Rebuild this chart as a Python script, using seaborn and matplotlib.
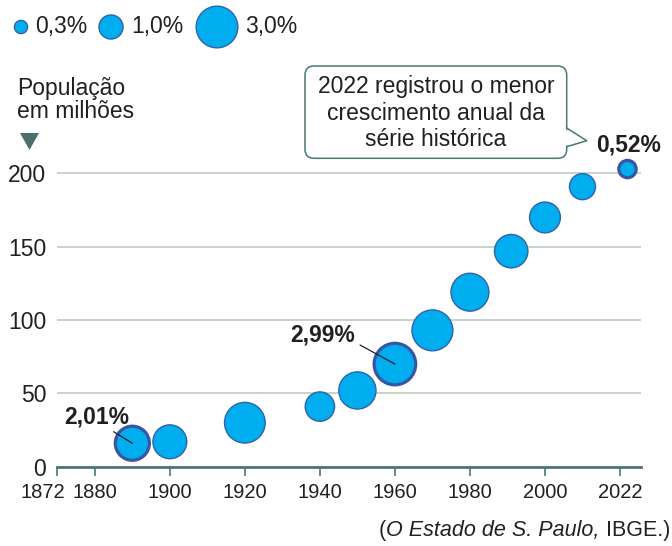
import matplotlib.pyplot as plt
import numpy as np
import pandas as pd
import seaborn as sns
from matplotlib.patches import FancyBboxPatch, Polygon
from matplotlib.transforms import ScaledTranslation

# dados (censos do IBGE)
anos = [1890, 1900, 1920, 1940, 1950, 1960, 1970, 1980, 1991, 2000, 2010, 2022]
populacao = [16, 17, 30, 41, 52, 70, 93, 119, 147, 170, 191, 203]
crescimento = [2.01, 1.98, 2.86, 1.49, 2.39, 2.99, 2.89, 2.48, 1.93, 1.64, 1.17, 0.52]
destaques = [1890, 1960, 2022]
rotulos = ['2,01%', '2,99%', '0,52%']

x_ticks = [1870, 1880, 1900, 1920, 1940, 1960, 1980, 2000, 2020]
x_labels = ['1872', '1880', '1900', '1920', '1940', '1960', '1980', '2000', '2022']
y_ticks = [0, 50, 100, 150, 200]

leg_taxas = [0.3, 1.0, 3.0]
leg_rotulos = ['0,3%', '1,0%', '3,0%']

df = pd.DataFrame({'ano': anos, 'pop': populacao, 'taxa': crescimento})

sns.set_theme(style='white')
plt.rcParams['font.family'] = ['Liberation Sans', 'DejaVu Sans']

AZUL = '#00adef'
BORDA = '#2f62ad'
BORDA2 = '#3a56a2'
VERDE = '#4b7774'
TXT = '#231f20'
SIZES = (90, 900)
NORM = (0.3, 3.0)

fig = plt.figure(figsize=(6.72, 5.46), dpi=100)
ax = fig.add_axes([57.3 / 672, 79.3 / 546, (641 - 57.3) / 672, (466.7 - 150) / 546])

sns.scatterplot(data=df, x='ano', y='pop', size='taxa', sizes=SIZES, size_norm=NORM,
                color=AZUL, edgecolor=BORDA, linewidth=1.0, legend=False, ax=ax, zorder=3)
sns.scatterplot(data=df[df['ano'].isin(destaques)], x='ano', y='pop', size='taxa',
                sizes=SIZES, size_norm=NORM, color=AZUL, edgecolor=BORDA2, linewidth=2.3,
                legend=False, ax=ax, zorder=4)

ax.set_xlim(1870, 2025.6)
ax.set_ylim(0, 216)
ax.set_xticks(x_ticks, x_labels)
ax.set_yticks(y_ticks)
ax.set_xlabel('')
ax.set_ylabel('')
ax.set_axisbelow(True)
ax.yaxis.grid(True, color='#b8c7b9', lw=1.1)
ax.xaxis.grid(False)
for s in ['top', 'right', 'left']:
    ax.spines[s].set_visible(False)
ax.spines['bottom'].set_color(VERDE)
ax.spines['bottom'].set_linewidth(2.0)
ax.tick_params(axis='x', bottom=True, length=6.5, width=1.2, color=VERDE, pad=5,
               labelsize=14.5, labelcolor=TXT)
ax.tick_params(axis='y', left=False, length=0, pad=8, labelsize=16.5, labelcolor=TXT)
for lbl in ax.get_xticklabels():
    if lbl.get_text() == '1872':
        lbl.set_transform(lbl.get_transform() + ScaledTranslation(-0.14, 0, fig.dpi_scale_trans))

# rotulos de destaque
pos_txt = [(1880.5, 29.8), (1940.7, 85.3), (2022.2, 214.9)]
pos_linha = [(1885.0, 23.9), (1950.7, 83.0), None]
for ano, rot, pt, pl in zip(destaques, rotulos, pos_txt, pos_linha):
    p = df.loc[df['ano'] == ano, 'pop'].iloc[0]
    ax.text(pt[0], pt[1], rot, ha='center', va='baseline', fontsize=16.5,
            fontweight='bold', color=TXT, zorder=6, clip_on=False)
    if pl is not None:
        ax.annotate('', xy=(ano, p), xytext=pl,
                    arrowprops=dict(arrowstyle='-', color=TXT, lw=0.9,
                                    shrinkA=0, shrinkB=0), zorder=6)

# camada em pixels para legenda, titulo e balao
ov = fig.add_axes([0, 0, 1, 1])
ov.set_xlim(0, 672)
ov.set_ylim(546, 0)
ov.axis('off')

leg_x = [21, 111, 217]
sns.scatterplot(x=leg_x, y=[27, 27, 27], size=leg_taxas, sizes=SIZES, size_norm=NORM,
                color=AZUL, edgecolor=BORDA, linewidth=1.0, legend=False, ax=ov)
ov.set_xlim(0, 672)
ov.set_ylim(546, 0)
for tx, r in zip([35, 131.7, 245], leg_rotulos):
    ov.text(tx, 33.3, r, ha='left', va='baseline', fontsize=16.5, color=TXT)

ov.text(17, 95, 'População', ha='left', va='baseline', fontsize=16.5, color=TXT)
ov.text(17, 118.3, 'em milhões', ha='left', va='baseline', fontsize=16.5, color=TXT)
ov.add_patch(Polygon([(20, 133), (39, 133), (29.5, 150)], closed=True,
                     facecolor='#4b6f6c', edgecolor='none'))

# balao
ov.add_patch(FancyBboxPatch((305, 66), 261.7, 92.3, boxstyle='round,pad=0,rounding_size=9',
                            facecolor='white', edgecolor=VERDE, lw=1.1, zorder=5))
ov.add_patch(Polygon([(564, 128.5), (586.7, 140.7), (564, 146.2)], closed=True,
                     facecolor='white', edgecolor='none', zorder=6))
ov.plot([566.7, 586.7, 566.7], [128, 140.7, 146.7], color=VERDE, lw=1.1, zorder=7)
for yb, linha in zip([93.5, 120, 146.5],
                     ['2022 registrou o menor', 'crescimento anual da', 'série histórica']):
    ov.text(436, yb, linha, ha='center', va='baseline', fontsize=16.5, color=TXT, zorder=8)

# fonte
t3 = ov.text(670, 536, ' IBGE.)', ha='right', va='baseline', fontsize=15.5, color=TXT)
t2 = ov.annotate('O Estado de S. Paulo,', xy=(0, 0), xycoords=t3, ha='right', va='bottom',
                 fontsize=15.5, fontstyle='italic', color=TXT)
ov.annotate('(', xy=(0, 0), xycoords=t2, ha='right', va='bottom', fontsize=15.5, color=TXT)

fig.savefig('out.png', dpi=100)
